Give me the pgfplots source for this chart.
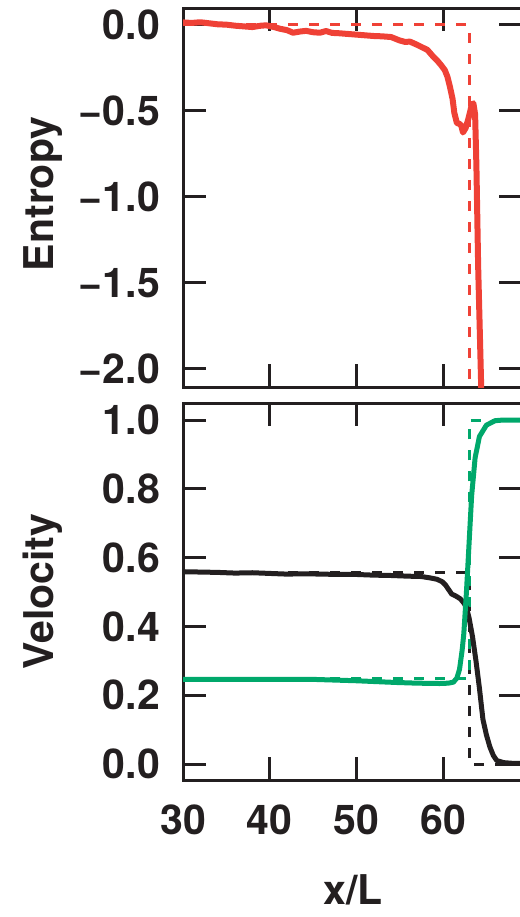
\documentclass[border=0pt]{standalone}
\usepackage{pgfplots}
\pgfplotsset{compat=1.18}
\usepackage{fontspec}
\setmainfont{TeX Gyre Heros}
\definecolor{myred}{RGB}{239,65,54}
\definecolor{mygreen}{RGB}{0,168,107}
\definecolor{mydark}{RGB}{35,31,32}

\pgfplotstableread{
x y
30 0.015
31 0.012
32 0.016
33 0.010
34 0.004
35 0.002
36 -0.004
37 -0.008
38 -0.012
39 -0.004
39.6 -0.002
40.5 -0.012
41.2 -0.022
42 -0.030
42.7 -0.045
43.5 -0.038
44.2 -0.034
45 -0.042
45.8 -0.045
46.5 -0.035
47.2 -0.046
48 -0.048
49 -0.052
50 -0.056
51 -0.060
52 -0.064
53 -0.066
54 -0.070
55 -0.090
55.6 -0.098
56.2 -0.097
57 -0.115
57.6 -0.130
58.2 -0.145
58.8 -0.180
59.3 -0.205
59.8 -0.235
60.2 -0.262
60.5 -0.300
60.8 -0.360
61.1 -0.430
61.3 -0.510
61.6 -0.570
61.9 -0.575
62.1 -0.585
62.3 -0.625
62.6 -0.600
62.9 -0.550
63.1 -0.510
63.3 -0.465
63.5 -0.455
63.7 -0.520
63.85 -0.820
64.05 -1.400
64.45 -2.200
}\entropy

\pgfplotstableread{
x y
30 0.559
32 0.558
34 0.557
36 0.555
38 0.556
40 0.554
42 0.552
44 0.553
46 0.552
48 0.551
50 0.551
52 0.549
54 0.548
56 0.546
57.5 0.545
58.5 0.541
59.3 0.537
59.9 0.530
60.3 0.520
60.7 0.505
61.0 0.494
61.5 0.488
62.0 0.480
62.4 0.468
62.7 0.455
63.0 0.425
63.4 0.370
63.8 0.300
64.2 0.220
64.6 0.130
65.0 0.085
65.4 0.050
65.8 0.025
66.2 0.010
67.0 0.004
68.0 0.002
69.5 0.002
}\vblack

\pgfplotstableread{
x y
30 0.246
35 0.246
40 0.246
45 0.246
50 0.242
54.6 0.237
57 0.235
59.6 0.234
60.6 0.235
61.2 0.238
61.6 0.250
61.9 0.275
62.2 0.330
62.4 0.380
62.7 0.500
63.0 0.640
63.3 0.780
63.7 0.890
64.2 0.952
65.0 0.985
66.0 0.998
67.0 1.000
69.5 1.000
}\vgreen

\begin{document}
\begin{tikzpicture}
\useasboundingbox (0bp,0bp) rectangle (520bp,-917bp);
\pgfplotsset{
  myaxis/.style={
    scale only axis, width=339bp, xmin=30, xmax=69.11,
    axis line style={line width=3bp, mydark},
    every tick/.style={line width=3bp, mydark},
    major tick length=23bp,
    tick align=inside,
    xtick={30,40,50,60,70},
    ticklabel style={font=\bfseries\fontsize{41bp}{48bp}\selectfont, text=mydark},
    yticklabel style={anchor=east, inner sep=0pt, xshift=-23bp},
    xticklabel style={anchor=north, inner sep=0pt, yshift=-25bp},
  }
}
\begin{axis}[myaxis,
  at={(183bp,-8bp)}, anchor=north west, height=379bp,
  ymin=-2.1047, ymax=0.0988,
  ytick={-2,-1.5,-1,-0.5,0},
  yticklabels={−2.0,−1.5,−1.0,−0.5,0.0},
  xticklabels={},
]
\addplot[myred, line width=3bp, dash pattern=on 10bp off 11bp] coordinates {(30,0) (63,0) (63,-2.3)};
\addplot[myred, line width=6bp, line join=round] table[x=x,y=y] {\entropy};
\end{axis}
\begin{axis}[myaxis,
  at={(183bp,-403bp)}, anchor=north west, height=377bp,
  ymin=-0.0465, ymax=1.0494,
  ytick={0,0.2,0.4,0.6,0.8,1.0},
  yticklabels={0.0,0.2,0.4,0.6,0.8,1.0},
  xticklabels={30,40,50,60,70},
]
\addplot[mydark, line width=3bp, dash pattern=on 10bp off 11bp] coordinates {(30,0.557) (63,0.557) (63,0) (70,0)};
\addplot[mygreen, line width=3bp, dash pattern=on 10bp off 11bp] coordinates {(30,0.249) (63,0.249) (63,1.0) (70,1.0)};
\addplot[mydark, line width=5bp, line join=round] table[x=x,y=y] {\vblack};
\addplot[mygreen, line width=5bp, line join=round] table[x=x,y=y] {\vgreen};
\end{axis}
\node[rotate=90, anchor=south, inner sep=0pt, font=\bfseries\fontsize{41bp}{48bp}\selectfont, text=mydark] at (63bp,-194bp) {Entropy};
\node[rotate=90, anchor=south, inner sep=0pt, font=\bfseries\fontsize{41bp}{48bp}\selectfont, text=mydark] at (63bp,-591.5bp) {Velocity};
\node[anchor=base, inner sep=0pt, font=\bfseries\fontsize{41bp}{48bp}\selectfont, text=mydark] at (353bp,-904bp) {x/L};
\end{tikzpicture}
\end{document}
